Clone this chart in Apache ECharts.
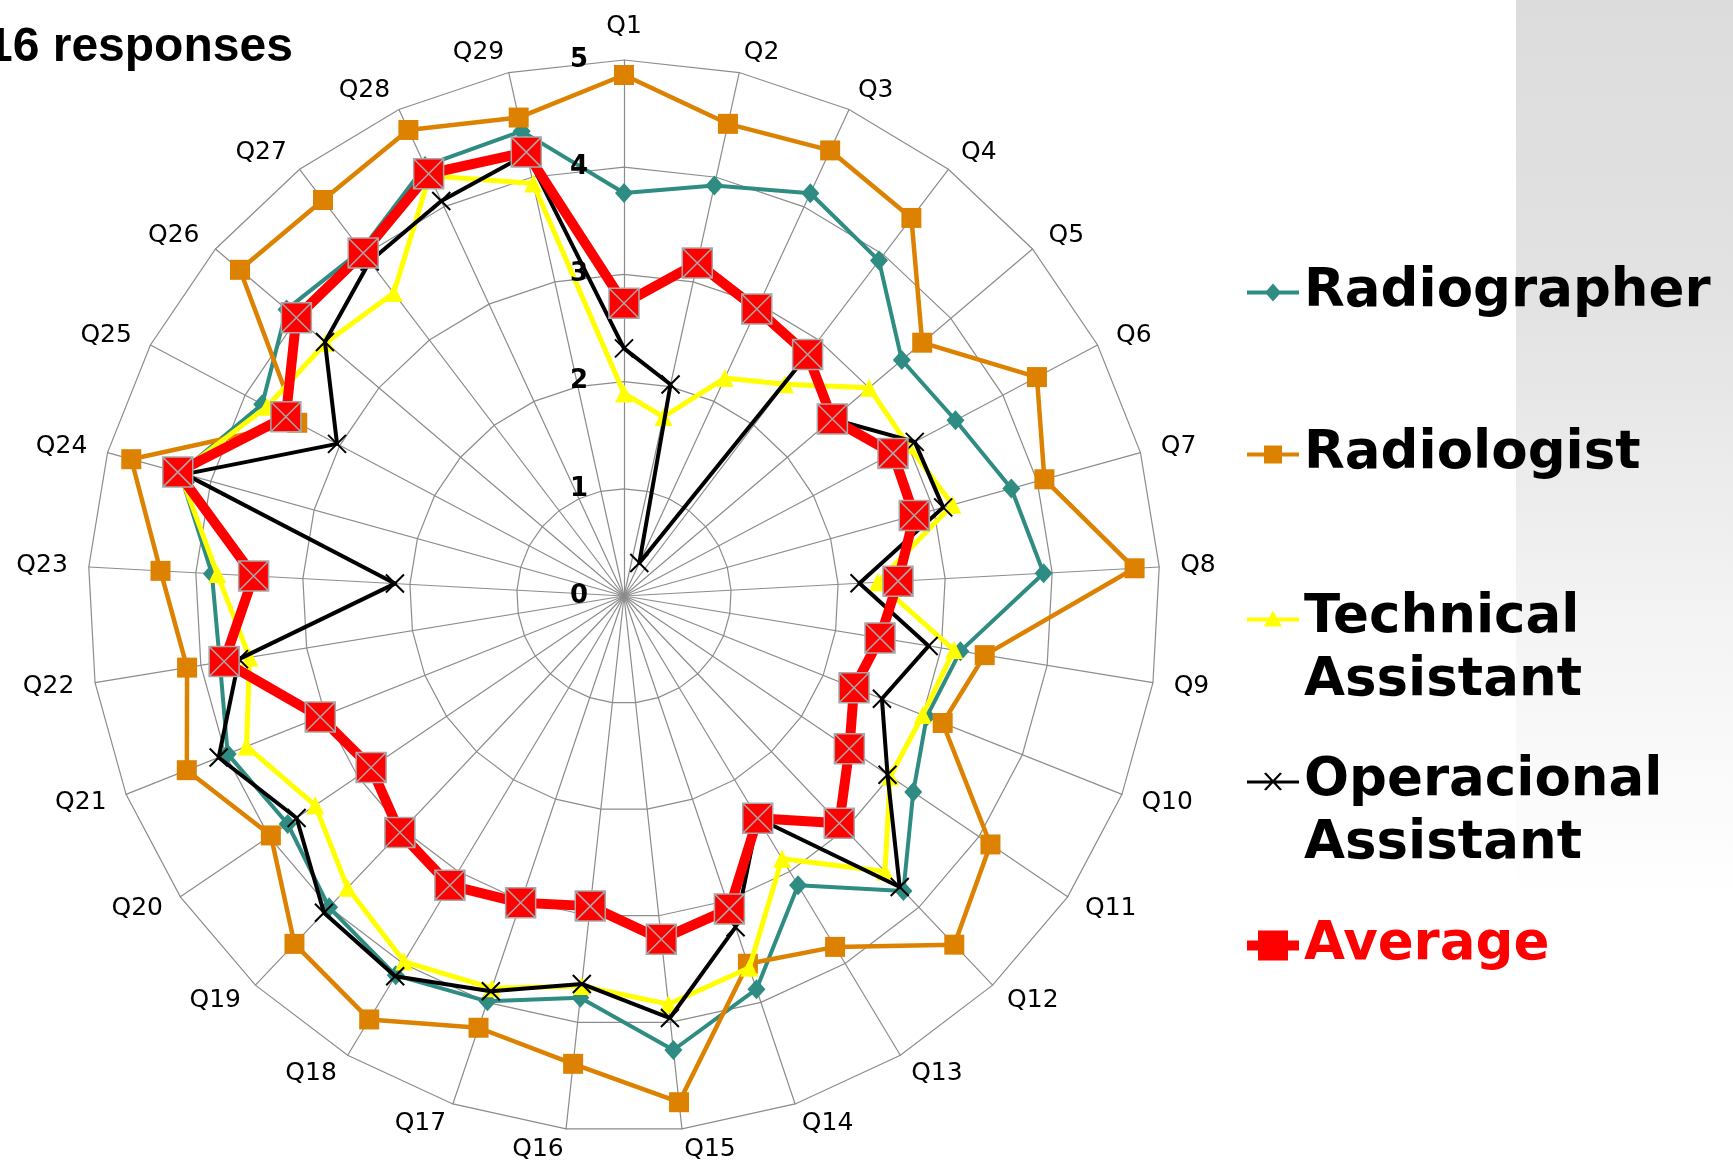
<!DOCTYPE html>
<html>
<head>
<meta charset="utf-8">
<script src="https://cdn.jsdelivr.net/npm/echarts@6/dist/echarts.min.js"></script>
<style>
html,body{margin:0;padding:0;background:#fff;}
#chart{width:1733px;height:1164px;}
</style>
</head>
<body>
<div id="chart"></div>
<script>
const categories = ['Q1','Q2','Q3','Q4','Q5','Q6','Q7','Q8','Q9','Q10','Q11','Q12','Q13','Q14','Q15','Q16','Q17','Q18','Q19','Q20','Q21','Q22','Q23','Q24','Q25','Q26','Q27','Q28','Q29'];
const tickLabels = ['0','1','2','3','4','5'];
const seriesNames = ['Radiographer','Radiologist','Technical Assistant','Operacional Assistant','Average'];

const radiographer = [3.76,3.92,4.14,3.93,3.40,3.50,3.75,3.92,3.18,3.04,3.26,3.79,3.15,3.87,4.26,3.77,3.99,4.13,4.00,3.79,3.98,3.82,3.85,4.30,3.82,4.13,4.05,4.42,4.44];
const radiologist = [4.86,4.51,4.58,4.43,3.65,4.36,4.07,4.77,3.41,3.20,4.13,4.48,3.82,3.62,4.75,4.39,4.25,4.61,4.47,3.98,4.39,4.13,4.33,4.77,3.45,4.70,4.64,4.79,4.57];
const technicalAssistant = [1.89,1.71,2.24,2.48,3.00,3.00,3.18,2.37,3.12,3.00,3.00,3.54,2.86,3.66,3.83,3.66,3.86,3.98,3.75,3.48,3.79,3.54,3.80,4.30,3.77,3.65,3.55,4.32,3.94];
const operacionalAssistant = [2.31,2.02,0.34,2.80,2.55,3.07,3.09,2.20,2.88,2.59,2.97,3.74,2.42,3.26,3.96,3.64,3.89,4.14,4.07,3.69,4.07,3.64,2.14,4.25,3.03,3.66,3.92,4.06,4.22];
const average = [2.73,3.18,2.95,2.83,2.55,2.84,2.81,2.56,2.42,2.31,2.54,2.92,2.42,3.08,3.22,2.91,3.02,3.15,3.04,2.85,3.05,3.78,3.46,4.32,3.57,4.01,4.02,4.34,4.24];

// ECharts radar runs counter-clockwise; reorder so Q2 sits right of Q1
const n = categories.length;
const reorder = arr => arr.map((_, k) => arr[(n - k) % n]);

const chart = echarts.init(document.getElementById('chart'), null, {renderer:'canvas'});

const gridColor = '#8c8c8c';
const xPath = 'path://M0,0L10,10M10,0L0,10';
const avgPath = 'path://M0,0H10V10H0Z M0,0L10,10 M10,0L0,10';

const styles = [
  {color:'#2f8c82', width:4, symbol:'diamond', size:[18,20]},
  {color:'#dc8200', width:4.5, symbol:'rect', size:20},
  {color:'#ffff00', width:5, symbol:'triangle', size:18},
  {color:'#000000', width:4, symbol:xPath, size:18},
  {color:'#ff0000', width:10, symbol:avgPath, size:30}
];
const seriesData = [radiographer, radiologist, technicalAssistant, operacionalAssistant, average];

const series = seriesData.map((arr, i) => {
  const s = styles[i];
  let itemStyle = {color:s.color};
  if (i === 3) itemStyle = {color:'#000', borderColor:'#000', borderWidth:2};
  if (i === 4) itemStyle = {color:'#ff0000', borderColor:'#a8a8a8', borderWidth:1.5};
  return {
    type:'radar',
    radarIndex:0,
    silent:true,
    z: 2 + i,
    data:[{
      name: seriesNames[i],
      value: reorder(arr),
      symbol: s.symbol,
      symbolSize: s.size,
      lineStyle:{color:s.color, width:s.width},
      itemStyle: itemStyle
    }]
  };
});

const legendIcons = [
  'path://M0,7h52v4h-52z M26,0L34,9L26,18L18,9z',
  'path://M0,7h52v4h-52z M17,0h18v18h-18z',
  'path://M0,7h52v4h-52z M26,0L35,16L17,16z',
  'path://M0,8h52v3h-52z M17,1L19,0L35,17L33,18z M33,0L35,1L19,18L17,17z',
  'path://M0,4h52v10h-52z M11,-6h30v30h-30z'
];
const legendTops = [261, 423, 524, 687, 914];
const legendText = [
  'Radiographer',
  'Radiologist',
  '\nTechnical\nAssistant',
  '\nOperacional\nAssistant',
  'Average'
];
const legends = seriesNames.map((nm, i) => ({
  data:[{name:nm, icon:legendIcons[i], itemStyle:{borderWidth:0}}],
  left:1247,
  top:legendTops[i],
  padding:0,
  itemWidth:52,
  itemHeight: i === 4 ? 30 : 18,
  selectedMode:false,
  formatter: () => legendText[i],
  textStyle:{
    fontFamily:'DejaVu Sans',
    fontWeight:'bold',
    fontSize:53,
    lineHeight:63,
    color: i === 4 ? '#ff0000' : '#000'
  }
}));

const option = {
  animation:false,
  backgroundColor:'#ffffff',
  graphic:[{
    type:'rect',
    z:-10,
    silent:true,
    shape:{x:1516, y:0, width:217, height:900},
    style:{
      fill:{type:'linear', x:0, y:0, x2:0, y2:1, colorStops:[
        {offset:0, color:'#dcdcdc'},
        {offset:0.35, color:'#e3e3e3'},
        {offset:0.7, color:'#f4f4f4'},
        {offset:1, color:'#ffffff'}
      ]}
    }
  }],
  title:{
    text:'16 responses',
    left:-14,
    top:24,
    padding:0,
    textStyle:{fontFamily:'Liberation Sans', fontWeight:'bold', fontSize:48, color:'#000'}
  },
  legend: legends,
  radar:{
    center:[624,596],
    radius:536,
    startAngle:90,
    splitNumber:5,
    shape:'polygon',
    indicator: reorder(categories).map(c => ({name:c, min:0, max:5})),
    axisName:{color:'#000', fontFamily:'DejaVu Sans', fontSize:25},
    nameGap:21,
    axisLine:{lineStyle:{color:gridColor, width:1.2}},
    splitLine:{lineStyle:{color:gridColor, width:1.2}},
    splitArea:{show:false},
    axisTick:{show:false},
    axisLabel:{show:false}
  },
  polar:{center:[624,596], radius:536},
  angleAxis:{show:false, startAngle:90, min:0, max:360},
  radiusAxis:{
    min:0, max:5, interval:1,
    axisLine:{show:false}, axisTick:{show:false}, splitLine:{show:false},
    axisLabel:{
      show:true, margin:36,
      fontFamily:'DejaVu Sans', fontWeight:'bold', fontSize:26, color:'#000',
      formatter: v => tickLabels[Math.round(v)]
    },
    z:20
  },
  series: series
};
chart.setOption(option);
</script>
</body>
</html>
